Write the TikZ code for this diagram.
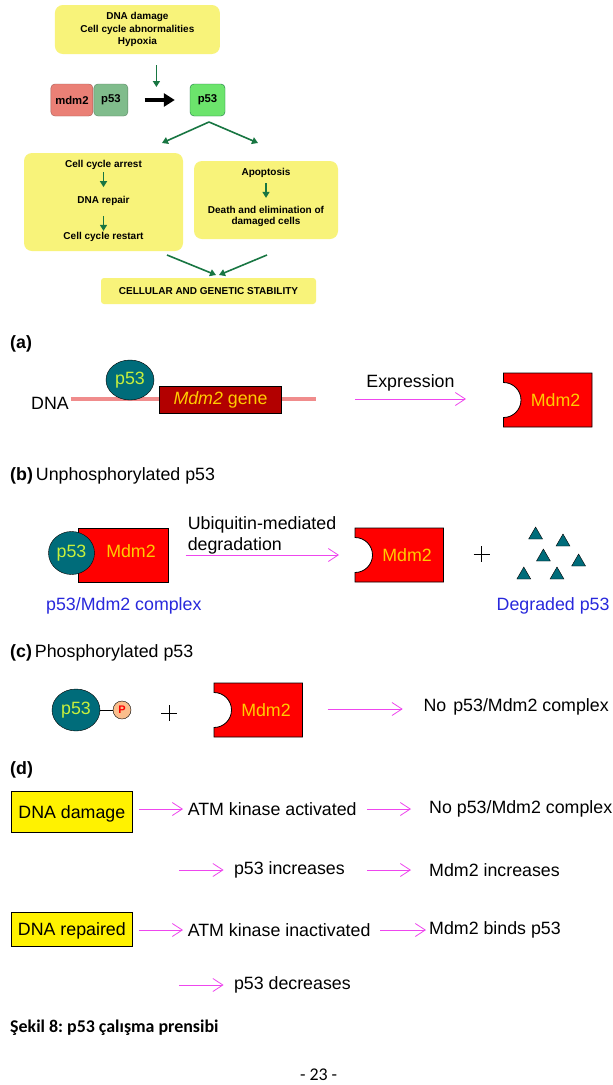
\documentclass[tikz,border=0pt]{standalone}
\usepackage{fontspec}
\setmainfont{Liberation Sans}
\newfontfamily\capfont{Carlito}
\usepackage{tikz}
\usetikzlibrary{arrows.meta,shapes.geometric}
\frenchspacing

\definecolor{paleyel}{RGB}{248,243,122}
\definecolor{salmon}{RGB}{234,128,118}
\definecolor{sagegrn}{RGB}{128,188,140}
\definecolor{litegrn}{RGB}{108,228,108}
\definecolor{darkgrn}{RGB}{24,118,66}
\definecolor{pkline}{RGB}{240,140,140}
\definecolor{magarr}{RGB}{238,70,238}
\definecolor{tealp}{RGB}{0,108,122}
\definecolor{limetxt}{RGB}{200,240,60}
\definecolor{mdmred}{RGB}{255,0,0}
\definecolor{genered}{RGB}{178,0,0}
\definecolor{goldtxt}{RGB}{255,204,0}
\definecolor{cplxblue}{RGB}{40,40,220}
\definecolor{peach}{RGB}{250,190,140}

\tikzset{
  mdmshape/.pic={
    \path[draw=black,fill=mdmred,line width=0.8pt] (0,-27) -- (88.5,-27) -- (88.5,27) -- (0,27) -- (0,17.5) arc (90:-90:17.5) -- cycle;
    \node[protxt] (-lbl) at (52,0) {Mdm2};
  }
}

\begin{document}
\begin{tikzpicture}[x=1pt,y=-1pt,
    every node/.style={inner sep=0pt},
    txt/.style={font=\fontsize{17.8}{21}\selectfont},
    bigbf/.style={font=\fontsize{17.8}{21}\selectfont\bfseries},
    hd/.style={font=\fontsize{10}{12.5}\selectfont\bfseries,align=center},
    softbox/.style={fill=paleyel,rounded corners=8pt},
    smallbox/.style={rounded corners=4pt,minimum height=32,font=\fontsize{11.3}{13}\selectfont\bfseries},
    garrow/.style={draw=darkgrn,line width=1.6pt,-{Triangle[length=6pt,width=7pt]}},
    pk/.style={draw=magarr,line width=0.8pt,-{Straight Barb[length=10pt,width=13pt]}},
    pnode/.style={ellipse,draw=black,fill=tealp,text=limetxt,font=\fontsize{17.8}{21}\selectfont},
    protxt/.style={text=goldtxt,font=\fontsize{17.8}{21}\selectfont},
    tri/.style={regular polygon,regular polygon sides=3,draw=black,fill=tealp,minimum size=16pt},
    sign/.style={line width=0.8pt},
    yelbox/.style={draw=black,fill=yellow,line width=0.8pt,minimum width=120.3}
  ]
  \useasboundingbox[fill=white] (0,0) rectangle (613,1085);

  % p53 pathway overview
  \node[softbox,hd,minimum width=165,minimum height=49] (trig) at (137.4,29.5) {DNA damage\\Cell cycle abnormalities\\Hypoxia};
  \node[smallbox,fill=salmon,draw=salmon!70!black,minimum width=42] (mdmc) at (71.9,100) {mdm2};
  \node[smallbox,fill=sagegrn,draw=sagegrn!70!black,minimum width=34] (p53c) at (110.9,100) {p53};
  \node[smallbox,fill=litegrn,draw=darkgrn,minimum width=35] (p53f) at (207.5,100) {p53};
  \coordinate (sig) at (156.4,87);
  \draw[garrow] (sig |- trig.south) ++(0,11) -- (sig);
  \draw[line width=4pt,-{Triangle[length=11pt,width=13pt]},shorten <=16.6pt,shorten >=15pt] (p53c) -- (p53f);
  \coordinate (fork) at (209,122);
  \coordinate (forkL) at (162,143);
  \coordinate (forkR) at (258,143);
  \draw[garrow] (fork) -- (forkL);
  \draw[garrow] (fork) -- (forkR);

  \node[softbox,minimum width=159,minimum height=98] (arrbox) at (103.5,202) {};
  \node[hd] (arrest) at (103.5,165) {Cell cycle arrest};
  \node[hd] (repair) at (103.5,201) {DNA repair};
  \node[hd] (restart) at (103.5,237) {Cell cycle restart};
  \draw[garrow,shorten <=2.3pt,shorten >=9pt] (arrest) -- (repair);
  \draw[garrow,shorten <=10pt,shorten >=1.3pt] (repair) -- (restart);

  \node[softbox,minimum width=144,minimum height=78] (apobox) at (266,200) {};
  \node[hd] (apop) at (266,173) {Apoptosis};
  \node[hd,font=\fontsize{10}{11.5}\selectfont\bfseries] (death) at (266,216.5) {Death and elimination of\\damaged cells};
  \draw[garrow,shorten <=5.3pt,shorten >=8pt] (apop) -- (death);

  \node[softbox,hd,rounded corners=3pt,minimum width=215,minimum height=26] (stab) at (208.5,291) {CELLULAR AND GENETIC STABILITY};
  \coordinate (jL) at (167,255);
  \coordinate (jR) at (267,255);
  \draw[garrow] (jL) -- (216,275);
  \draw[garrow] (jR) -- (219,275);

  % (a) expression
  \node[bigbf,anchor=west] (laba) at (10,344) {(a)};
  \node[txt,anchor=west] (dna) at (31,403) {DNA};
  \coordinate (dnaend) at (316,399);
  \draw[pkline,line width=3.6pt] (dna.east |- dnaend) ++(1.6,0) -- (dnaend);
  \node[pnode,minimum width=48,minimum height=40] (p53a) at (130,380) {p53};
  \node[draw=black,fill=genered,minimum width=122,minimum height=27,protxt] (gene) at (220.5,399.5) {\textit{Mdm2} gene};
  \coordinate (exA) at (355,399);
  \coordinate (exB) at (466,399);
  \draw[pk] (exA) -- (exB) node[txt,midway,above=7.5pt] (expr) {Expression};
  \pic (mdmA) at (503.5,400) {mdmshape};

  % (b) unphosphorylated
  \node[txt,anchor=west] (labb) at (10,476) {\textbf{(b)}\hspace{3pt}Unphosphorylated p53};
  \node[draw=black,fill=mdmred,line width=0.8pt,minimum width=90,minimum height=54] (cxR) at (123,555) {};
  \node[protxt] (cxM) at (131,551) {Mdm2};
  \node[pnode,minimum width=46,minimum height=43] (cxP) at (71.5,553) {p53};
  \coordinate (ubA) at (185.7,555);
  \coordinate (ubB) at (339,555);
  \draw[pk] (ubA) -- (ubB);
  \node[txt,align=left,anchor=west] (ubtxt) at (187.6,535.5) {Ubiquitin-mediated\\degradation};
  \pic (mdmB) at (355,555) {mdmshape};
  \coordinate (plusB) at (481.6,554);
  \draw[sign] (plusB) ++(-8,0) -- ++(16,0) (plusB) ++(0,-8) -- ++(0,16);
  \node[tri] (dg1) at (535.6,535) {};
  \node[tri] (dg2) at (563,542) {};
  \node[tri] (dg3) at (543.4,557) {};
  \node[tri] (dg4) at (578.6,562) {};
  \node[tri] (dg5) at (523.8,575) {};
  \node[tri] (dg6) at (557,575) {};
  \node[txt,text=cplxblue,anchor=west] (cxlab) at (46,606) {p53/Mdm2 complex};
  \node[txt,text=cplxblue,anchor=west] (dglab) at (496.5,606) {Degraded p53};

  % (c) phosphorylated
  \node[txt,anchor=west] (labc) at (10,653) {\textbf{(c)}\hspace{3pt}Phosphorylated p53};
  \node[pnode,minimum width=48,minimum height=42] (phP) at (76,710) {p53};
  \node[circle,draw=black,fill=peach,minimum size=18,text=red,font=\fontsize{11}{13}\selectfont\bfseries] (phos) at (122,710) {P};
  \draw (phP) -- (phos);
  \coordinate (plusC) at (169,713);
  \draw[sign] (plusC) ++(-8,0) -- ++(16,0) (plusC) ++(0,-8) -- ++(0,16);
  \pic (mdmC) at (214,710) {mdmshape};
  \coordinate (noA) at (327.6,709);
  \coordinate (noB) at (402.7,709);
  \draw[pk] (noA) -- (noB);
  \node[txt,anchor=west] (nocx) at (423.4,707) {No\hspace{7pt}p53/Mdm2 complex};

  % (d) damage and repair
  \node[bigbf,anchor=west] (labd) at (10,770) {(d)};
  \node[yelbox,minimum height=41] (dmg) at (71.85,811.5) {};
  \node[txt] (dmgtxt) at (71.85,814) {DNA damage};
  \node[txt,anchor=west] (atm1) at (187.6,809) {ATM kinase activated};
  \node[txt,anchor=west] (nocx2) at (429,809) {No p53/Mdm2 complex};
  \draw[pk,shorten <=6.8pt,shorten >=4.6pt] (atm1.west -| dmg.east) -- (atm1.west);
  \draw[pk,shorten <=10.3pt,shorten >=18pt] (atm1.east) -- (nocx2.west);
  \coordinate (r2s) at (179,870);
  \node[txt,anchor=west] (incr) at (233.8,870) {p53 increases};
  \node[txt,anchor=west] (mdmin) at (429,870) {Mdm2 increases};
  \draw[pk,shorten >=10.2pt] (r2s) -- (incr.west);
  \draw[pk,shorten <=22.4pt,shorten >=18pt] (incr.east) -- (mdmin.west);

  \node[yelbox,minimum height=34] (rep) at (71.85,929) {};
  \node[txt] (reptxt) at (71.85,930.5) {DNA repaired};
  \node[txt,anchor=west] (atm2) at (187.6,930) {ATM kinase inactivated};
  \node[txt,anchor=west] (binds) at (429,930) {Mdm2 binds p53};
  \draw[pk,shorten <=6.8pt,shorten >=4.6pt] (atm2.west -| rep.east) -- (atm2.west);
  \draw[pk,shorten <=9.4pt,shorten >=3pt] (atm2.east) -- (binds.west);
  \coordinate (r4s) at (179,985);
  \node[txt,anchor=west] (decr) at (233.8,985) {p53 decreases};
  \draw[pk,shorten >=10.2pt] (r4s) -- (decr.west);

  % caption
  \node[font=\capfont\bfseries\fontsize{17.9}{21}\selectfont,anchor=west] (cap) at (10,1028) {Şekil 8: p53 çalışma prensibi};
  \node[font=\capfont\fontsize{17.9}{21}\selectfont] (pg) at (318.6,1075) {- 23 -};
\end{tikzpicture}
\end{document}
